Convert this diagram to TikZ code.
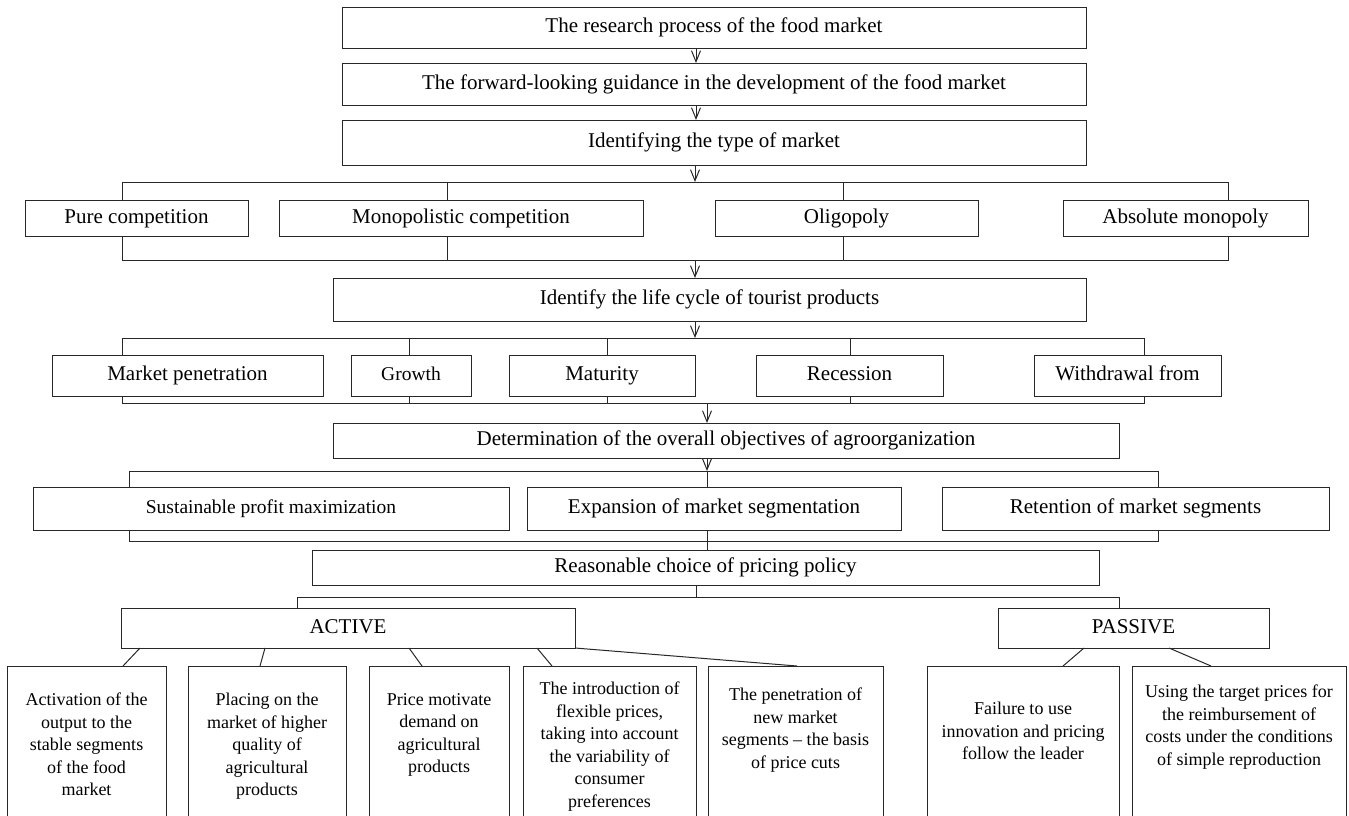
\documentclass[tikz,border=0pt]{standalone}
\usepackage{fontspec}
\setmainfont{Liberation Serif}
\usepackage{tikz}
\usetikzlibrary{arrows.meta,positioning}
\definecolor{linegray}{RGB}{40,40,40}
\tikzstyle{box} = [draw=linegray, line width=1pt, rectangle, inner sep=0pt, outer sep=0pt, text height=14.5pt, text depth=4.5pt, font=\fontsize{21}{24}\selectfont]
\tikzstyle{smallbox} = [box, text height=13.5pt, text depth=4pt, font=\fontsize{19.5}{22}\selectfont]
\tikzstyle{leaf} = [draw=linegray, line width=1pt, rectangle, inner sep=0pt, outer sep=0pt, anchor=north, minimum height=156pt]
\tikzstyle{leaftext} = [align=center, inner sep=0pt, font=\fontsize{18}{22.5}\selectfont]
\tikzstyle{link} = [line width=1pt, color=linegray]
\tikzstyle{arrow} = [link, -{Straight Barb[length=11pt,width=9pt]}]

\begin{document}
\begin{tikzpicture}[x=1pt, y=-1pt]
\useasboundingbox (0,0) rectangle (1349,815);

% Main chain
\node[box, minimum width=744pt, minimum height=41pt] (research) at (714,27.5) {The research process of the food market};
\node[box, minimum width=744pt, minimum height=42pt] (guide) at (714,84) {The forward-looking guidance in the development of the food market};
\node[box, minimum width=744pt, minimum height=45pt] (typebox) at (714,142.5) {Identifying the type of market};
\draw[arrow] ([xshift=-18pt]research.south) -- ([xshift=-18pt]guide.north);
\draw[arrow] ([xshift=-18pt]guide.south) -- ([xshift=-18pt]typebox.north);

% Market types
\node[box, minimum width=223pt, minimum height=36pt] (pure) at (136.5,218) {Pure competition};
\node[box, minimum width=364pt, minimum height=36pt] (mono) at (461,218) {Monopolistic competition};
\node[box, minimum width=263pt, minimum height=36pt] (oligo) at (846.5,218) {Oligopoly};
\node[box, minimum width=245pt, minimum height=36pt] (absmono) at (1185.5,218) {Absolute monopoly};
\draw[arrow] ([xshift=-19pt]typebox.south) -- ++(0,17);
\draw[link] ([xshift=-14.5pt]pure.north) -- ++(0,-18) -| ([xshift=42.5pt]absmono.north);
\draw[link] ([xshift=-14pt]mono.north) -- ++(0,-18);
\draw[link] ([xshift=-3.5pt]oligo.north) -- ++(0,-18);
\draw[link] ([xshift=-14.5pt]pure.south) -- ++(0,24) -| ([xshift=42.5pt]absmono.south);
\draw[link] ([xshift=-14pt]mono.south) -- ++(0,24);
\draw[link] ([xshift=-3.5pt]oligo.south) -- ++(0,24);

% Life cycle
\node[box, minimum width=753pt, minimum height=43pt] (lifecycle) at (709.5,299.5) {Identify the life cycle of tourist products};
\draw[arrow] ([xshift=-14.5pt]lifecycle.north) ++(0,-18) -- ([xshift=-14.5pt]lifecycle.north);
\node[box, minimum width=271pt, minimum height=41pt] (penetr) at (187.5,375.5) {Market penetration};
\node[smallbox, minimum width=120pt, minimum height=41pt] (growth) at (411,375.5) {Growth};
\node[box, minimum width=186pt, minimum height=41pt] (maturity) at (602,375.5) {Maturity};
\node[box, minimum width=187pt, minimum height=41pt] (recess) at (849.5,375.5) {Recession};
\node[box, minimum width=187pt, minimum height=41pt] (withdraw) at (1127.5,375.5) {Withdrawal from};
\draw[arrow] ([xshift=-14.5pt]lifecycle.south) -- ++(0,17);
\draw[link] ([xshift=-65.5pt]penetr.north) -- ++(0,-17) -| ([xshift=16.5pt]withdraw.north);
\draw[link] ([xshift=-2pt]growth.north) -- ++(0,-17);
\draw[link] ([xshift=5pt]maturity.north) -- ++(0,-17);
\draw[link] ([xshift=0.5pt]recess.north) -- ++(0,-17);
\draw[link] ([xshift=-65.5pt]penetr.south) -- ++(0,7) -| ([xshift=16.5pt]withdraw.south);
\draw[link] ([xshift=-2pt]growth.south) -- ++(0,7);
\draw[link] ([xshift=5pt]maturity.south) -- ++(0,7);
\draw[link] ([xshift=0.5pt]recess.south) -- ++(0,7);

% Objectives
\node[box, minimum width=786pt, minimum height=35pt] (goals) at (726,440.5) {Determination of the overall objectives of agroorganization};
\draw[arrow] ([xshift=-19pt]goals.north) ++(0,-20) -- ([xshift=-19pt]goals.north);
\node[smallbox, minimum width=476pt, minimum height=43pt] (profit) at (271,508.5) {Sustainable profit maximization};
\node[box, minimum width=374pt, minimum height=43pt] (expand) at (714,508.5) {Expansion of market segmentation};
\node[box, minimum width=387pt, minimum height=43pt] (retain) at (1135.5,508.5) {Retention of market segments};
\draw[arrow] ([xshift=-19pt]goals.south) -- ++(0,13);
\draw[link] ([xshift=-142pt]profit.north) -- ++(0,-16) -| ([xshift=22.5pt]retain.north);
\draw[link] ([xshift=-7pt]expand.north) -- ++(0,-16);
\draw[link] ([xshift=-142pt]profit.south) -- ++(0,11) -| ([xshift=22.5pt]retain.south);

% Pricing policy
\node[box, minimum width=787pt, minimum height=35pt] (pricing) at (705.5,567.5) {Reasonable choice of pricing policy};
\draw[link] ([xshift=-7pt]expand.south) -- ([xshift=1.5pt]pricing.north);
\node[box, minimum width=454pt, minimum height=40pt] (active) at (348,628) {ACTIVE};
\node[box, minimum width=271pt, minimum height=40pt] (passive) at (1133.5,628) {PASSIVE};
\draw[link] ([xshift=-9.5pt]pricing.south) -- ++(0,12);
\draw[link] ([xshift=-51pt]active.north) -- ++(0,-11) -| ([xshift=-14.5pt]passive.north);

% Active measures
\node[leaf, minimum width=159pt] (act1) at (86.5,666) {};
\node[leaf, minimum width=158pt] (act2) at (267,666) {};
\node[leaf, minimum width=140pt] (act3) at (439,666) {};
\node[leaf, minimum width=173pt] (act4) at (609.5,666) {};
\node[leaf, minimum width=175pt] (act5) at (795.5,666) {};
\node[leaftext, below=27pt of act1.north] (act1txt) {Activation of the\\output to the\\stable segments\\of the food\\market};
\node[leaftext, below=27pt of act2.north] (act2txt) {Placing on the\\market of higher\\quality of\\agricultural\\products};
\node[leaftext, below=27pt of act3.north] (act3txt) {Price motivate\\demand on\\agricultural\\products};
\node[leaftext, below=16pt of act4.north] (act4txt) {The introduction of\\flexible prices,\\taking into account\\the variability of\\consumer\\preferences};
\node[leaftext, below=22pt of act5.north] (act5txt) {The penetration of\\new market\\segments – the basis\\of price cuts};
\draw[link] ([xshift=19pt]active.south west) -- ([xshift=116pt]act1.north west);
\draw[link] ([xshift=144pt]active.south west) -- ([xshift=72pt]act2.north west);
\draw[link] ([xshift=288pt]active.south west) -- ([xshift=53pt]act3.north west);
\draw[link] ([xshift=416pt]active.south west) -- ([xshift=29pt]act4.north west);
\draw[link] (active.south east) -- ([xshift=89pt]act5.north west);

% Passive measures
\node[leaf, minimum width=192pt] (pas1) at (1023,666) {};
\node[leaf, minimum width=214pt] (pas2) at (1239,666) {};
\node[leaftext, below=36pt of pas1.north] (pas1txt) {Failure to use\\innovation and pricing\\follow the leader};
\node[leaftext, below=19pt of pas2.north] (pas2txt) {Using the target prices for\\the reimbursement of\\costs under the conditions\\of simple reproduction};
\draw[link] ([xshift=86pt]passive.south west) -- ([xshift=136pt]pas1.north west);
\draw[link] ([xshift=171pt]passive.south west) -- ([xshift=79pt]pas2.north west);
\end{tikzpicture}
\end{document}
